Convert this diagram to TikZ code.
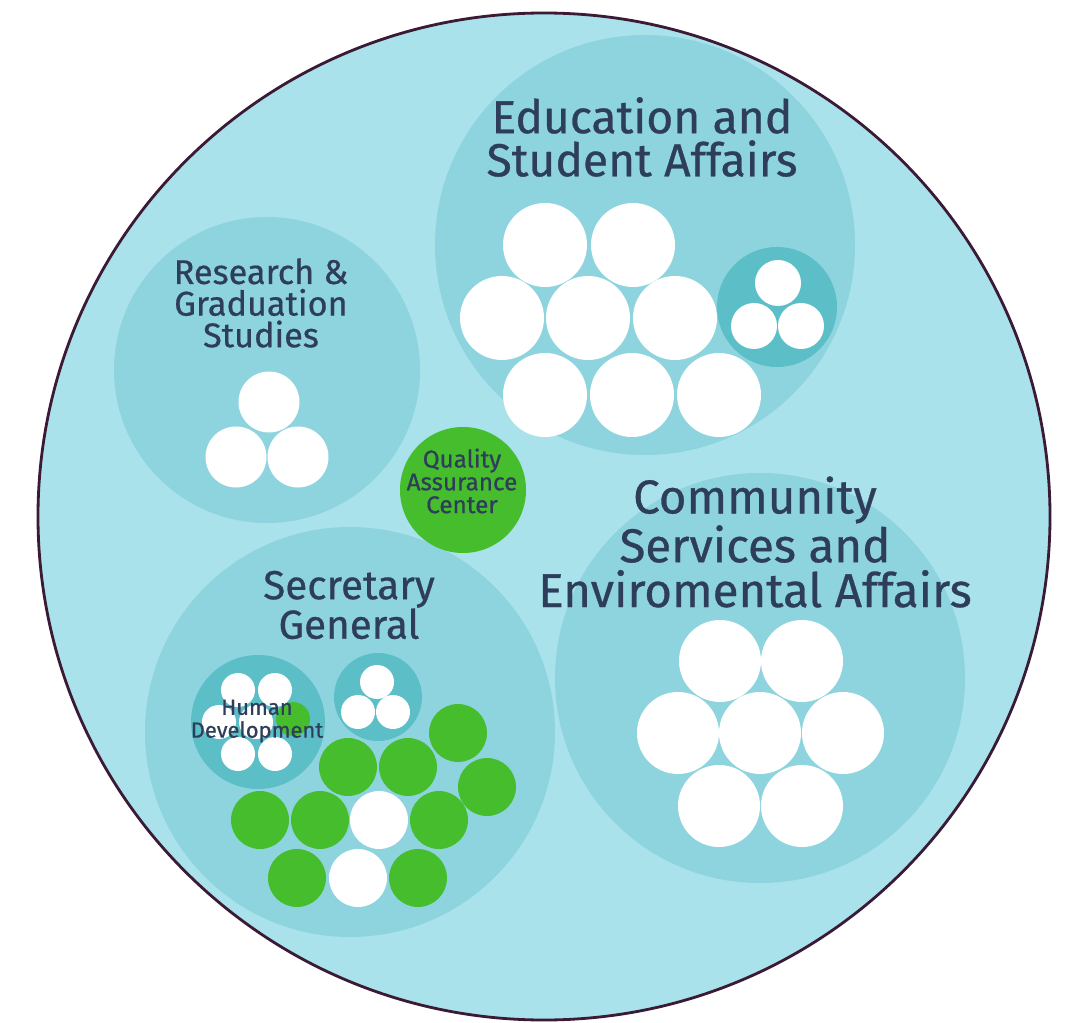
\documentclass[tikz,border=0pt]{standalone}
\usepackage{fontspec}
\setmainfont{Fira Sans}[FakeBold=0.6]
\definecolor{outerfill}{HTML}{A9E2EA}
\definecolor{midfill}{HTML}{8ED4DE}
\definecolor{darkfill}{HTML}{5CBFC7}
\definecolor{rimcol}{HTML}{3A1A35}
\definecolor{grn}{HTML}{45BD2D}
\definecolor{txt}{HTML}{2D3D5A}
\tikzset{
  outerc/.style={fill=outerfill, draw=rimcol, line width=1.6pt},
  groupc/.style={fill=midfill},
  unitc/.style={fill=darkfill},
  wdot/.style={fill=white},
  gdot/.style={fill=grn},
  lbl/.style={text=txt, align=center, inner sep=0pt},
}
\begin{document}
\begin{tikzpicture}[x=0.02cm, y=-0.02cm]
\useasboundingbox (0,0) rectangle (1071,1023);
% outer circle
\draw[outerc] (544,516.5) ellipse [x radius=506, y radius=503.5];
% group circles
\fill[groupc] (645,245) circle (210);
\fill[groupc] (267,370) circle (153);
\fill[groupc] (760,678) circle (205);
\fill[groupc] (350,732) circle (205);
% Education
\foreach \p in {(545,245),(633,245),(502,318),(588,318),(675,318),(545,395),(632,395),(719,395)}
  \fill[wdot] \p circle (42);
\fill[unitc] (777,307) circle (60);
\foreach \p in {(778,283),(754,326),(801,326)}
  \fill[wdot] \p circle (23);
% Research
\foreach \p in {(269,402),(236,457),(298,457)}
  \fill[wdot] \p circle (30.5);
% Community
\foreach \p in {(720,661),(802,661),(678,733),(760,733),(843,733),(719,806),(802,806)}
  \fill[wdot] \p circle (41);
% Secretary General units
\fill[unitc] (258,722) circle (67);
\foreach \p in {(238,690),(275,690),(219,722),(256,722),(238,754),(275,754)}
  \fill[wdot] \p circle (17);
\fill[gdot] (293,719) circle (17);
\fill[unitc] (378,697) circle (44);
\foreach \p in {(377,682),(358,712),(393,712)}
  \fill[wdot] \p circle (17);
\foreach \p in {(458,733),(348,767),(408,767),(487,787),(260,820),(320,820),(439,820),(297,878),(418,878)}
  \fill[gdot] \p circle (29);
\foreach \p in {(379,820),(358,878)}
  \fill[wdot] \p circle (29);
% Quality Assurance
\fill[gdot] (463,490) circle (63);
% labels
\node[lbl, font=\fontsize{26.3}{24.5}\selectfont] (edu) at (642,137) {Education and\\Student Affairs};
\node[lbl, font=\fontsize{19.5}{18}\selectfont] (res) at (261,303) {Research \&\\Graduation\\Studies};
\node[lbl, font=\fontsize{27}{25.5}\selectfont] (com) at (755,542) {Community\\Services and\\Enviromental Affairs};
\node[lbl, font=\fontsize{23}{22.5}\selectfont] (sec) at (349,605) {Secretary\\General};
\node[lbl, font=\fontsize{13.8}{13}\selectfont] (qac) at (462,481) {Quality\\Assurance\\Center};
\node[lbl, font=\fontsize{12.5}{13}\selectfont] (hd) at (257,721) {Human\\Development};
\end{tikzpicture}
\end{document}
